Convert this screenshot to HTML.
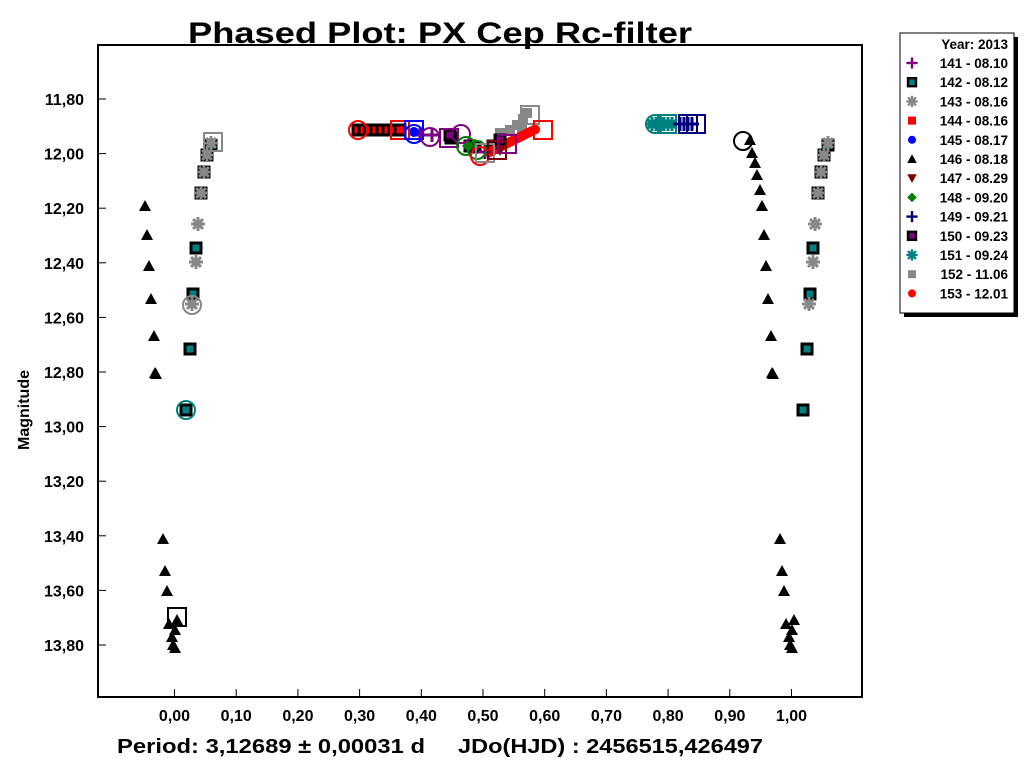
<!DOCTYPE html>
<html><head><meta charset="utf-8"><style>
body{margin:0;background:#fff;width:1024px;height:768px;overflow:hidden}
svg{display:block}
text{font-family:"Liberation Sans",Arial,sans-serif;font-weight:bold}
</style></head><body>
<svg id="s" width="1024" height="768" xmlns="http://www.w3.org/2000/svg">
<rect width="1024" height="768" fill="#fff"/>
<text x="188" y="43" font-size="30" textLength="504" lengthAdjust="spacingAndGlyphs">Phased Plot: PX Cep Rc-filter</text>
<rect x="98" y="45" width="764" height="652" fill="none" stroke="#000" stroke-width="2"/>
<g id="ticks" stroke="#000" stroke-width="1"></g>
<g id="lab" font-size="16"></g>
<text x="0" y="0" font-size="16" transform="translate(29,410) rotate(-90)" text-anchor="middle">Magnitude</text>
<text x="117" y="753" font-size="20" textLength="308" lengthAdjust="spacingAndGlyphs">Period: 3,12689 ± 0,00031 d</text>
<text x="458" y="753" font-size="20" textLength="305" lengthAdjust="spacingAndGlyphs">JDo(HJD) : 2456515,426497</text>
<g id="pts"></g>
<rect x="904" y="37" width="114" height="280" fill="#000"/>
<rect x="900" y="33" width="114" height="280" fill="#fff" stroke="#000"/>
<g id="leg" font-size="13.5"></g>
</svg>
<script>
var NS="http://www.w3.org/2000/svg";
function el(p,t,a,txt){var e=document.createElementNS(NS,t);for(var k in a)e.setAttribute(k,a[k]);if(txt)e.textContent=txt;document.getElementById(p).appendChild(e);return e;}
function px(p){return 174.5+617*p} function py(m){return 99+(m-11.8)*273}
for(var i=0;i<=10;i++){var x=px(i/10);el('ticks','line',{x1:x,y1:697,x2:x,y2:689});
 el('lab','text',{x:x,y:721,'text-anchor':'middle'},(i/10).toFixed(2).replace('.',','));}
for(var i=0;i<=10;i++){var m=11.8+i*0.2,y=py(m);el('ticks','line',{x1:98,y1:y,x2:106,y2:y});
 el('lab','text',{x:84,y:y+6,'text-anchor':'end'},m.toFixed(2).replace('.',','));}
function mk(g,t,x,y,c){
 if(t=='tri')el(g,'polygon',{points:(x-6)+','+(y+5)+' '+(x+6)+','+(y+5)+' '+x+','+(y-6),fill:'#000'});
 else if(t=='sqb')el(g,'rect',{x:x-5,y:y-5,width:10,height:10,fill:c,stroke:'#000','stroke-width':3});
 else if(t=='sq')el(g,'rect',{x:x-5,y:y-5,width:10,height:10,fill:c});
 else if(t=='ast'){for(var a=0;a<4;a++){var an=a*Math.PI/4;el(g,'line',{x1:x-7*Math.cos(an),y1:y-7*Math.sin(an),x2:x+7*Math.cos(an),y2:y+7*Math.sin(an),stroke:c,'stroke-width':3});}}
 else if(t=='plus'){el(g,'line',{x1:x-7,y1:y,x2:x+7,y2:y,stroke:c,'stroke-width':3});el(g,'line',{x1:x,y1:y-7,x2:x,y2:y+7,stroke:c,'stroke-width':3});}
 else if(t=='dot')el(g,'circle',{cx:x,cy:y,r:5,fill:c});
 else if(t=='dia')el(g,'polygon',{points:x+','+(y-6)+' '+(x+6)+','+y+' '+x+','+(y+6)+' '+(x-6)+','+y,fill:c});
 else if(t=='dtri')el(g,'polygon',{points:(x-6)+','+(y-5)+' '+(x+6)+','+(y-5)+' '+x+','+(y+6),fill:c});
 else if(t=='oc')el(g,'circle',{cx:x,cy:y,r:9,fill:'none',stroke:c,'stroke-width':2});
 else if(t=='os')el(g,'rect',{x:x-9,y:y-9,width:18,height:18,fill:'none',stroke:c,'stroke-width':2});
}
var tri=[[145,206],[147,235],[149,266],[151,299],[154,336],[156,374],[163,539],[165,571],[167,591],[169,624],[172,637],[173,645],[175,648],[177,620],[175,630],[155,373]];
tri.forEach(function(p){mk('pts','tri',p[0],p[1]);mk('pts','tri',p[0]+617,p[1]);});
[[750,140],[752,153],[755,163],[757,175],[760,190],[762,206]].forEach(function(p){mk('pts','tri',p[0],p[1]);});
var sq=[[196,248],[193,294],[190,349],[186,410],[201,193],[204,172],[207,155],[211,145]];
sq.forEach(function(p){mk('pts','sqb',p[0],p[1],'#008080');mk('pts','sqb',p[0]+617,p[1],'#008080');});
var as=[[198,224],[196,262],[192,304],[201,193],[204,172],[207,155],[211,143]];
as.forEach(function(p){mk('pts','ast',p[0],p[1],'#888');mk('pts','ast',p[0]+617,p[1],'#888');});
mk('pts','oc',192,305,'#888');mk('pts','oc',186,410,'#008080');mk('pts','oc',743,141,'#000');
mk('pts','os',177,617,'#000');mk('pts','os',213,142,'#888');
for(var x=358;x<=405;x+=6)mk('pts','sqb',x,130,'#f00');
mk('pts','sqb',451,138,'#000');mk('pts','sqb',470,146,'#000');mk('pts','sqb',493,146,'#000');mk('pts','sqb',500,140,'#000');
mk('pts','sq',500,133,'#888');mk('pts','sq',510,130,'#888');mk('pts','sq',517,125,'#888');mk('pts','sq',523,119,'#888');mk('pts','sq',527,113,'#888');mk('pts','sq',522,128,'#888');
for(var x=490;x<=537;x+=3)mk('pts','dot',x,152-(x-490)*0.5,'#f00');
mk('pts','sqb',500,140,'#800080');
mk('pts','sqb',450,135,'#800080');mk('pts','sqb',475,147,'#800080');mk('pts','dia',468,146,'#008000');mk('pts','dtri',500,150,'#800000');
mk('pts','plus',420,135,'#800080');mk('pts','plus',432,135,'#800080');mk('pts','plus',485,152,'#800080');mk('pts','dot',414,132,'#00f');
mk('pts','oc',358,130,'#f00');mk('pts','os',400,130,'#f00');mk('pts','os',414,130,'#00f');mk('pts','oc',414,134,'#00f');
mk('pts','oc',430,137,'#800080');mk('pts','os',449,138,'#800080');mk('pts','oc',461,134,'#800080');
mk('pts','oc',466,146,'#008000');mk('pts','oc',477,150,'#008000');mk('pts','oc',480,156,'#f00');mk('pts','os',485,153,'#888');mk('pts','os',497,150,'#800000');
mk('pts','os',507,144,'#800080');mk('pts','os',530,115,'#888');mk('pts','os',543,130,'#f00');
for(var x=652;x<=672;x+=4)mk('pts','ast',x,124,'#008080');
mk('pts','oc',655,124,'#008080');mk('pts','os',667,124,'#008080');
for(var x=680;x<=693;x+=4)mk('pts','plus',x,124,'#000080');
mk('pts','os',688,124,'#000080');mk('pts','os',696,124,'#000080');
el('leg','text',{x:1008,y:49,'text-anchor':'end'},'Year: 2013');
var L=[['plus','#800080','141 - 08.10'],['sqb','#008080','142 - 08.12'],['ast','#888','143 - 08.16'],['sq','#f00','144 - 08.16'],['dot','#00f','145 - 08.17'],['tri','#000','146 - 08.18'],['dtri','#800000','147 - 08.29'],['dia','#008000','148 - 09.20'],['plus','#000080','149 - 09.21'],['sqb','#800080','150 - 09.23'],['ast','#008080','151 - 09.24'],['sq','#888','152 - 11.06'],['dot','#f00','153 - 12.01']];
L.forEach(function(l,i){var y=68+i*19.2;
 var gg=el('leg','g',{transform:'translate(912,'+(y-5)+') scale(0.8)'});gg.id='m'+i;mk('m'+i,l[0],0,0,l[1]);
 el('leg','text',{x:1008,y:y,'text-anchor':'end'},l[2]);});
</script>
</body></html>
